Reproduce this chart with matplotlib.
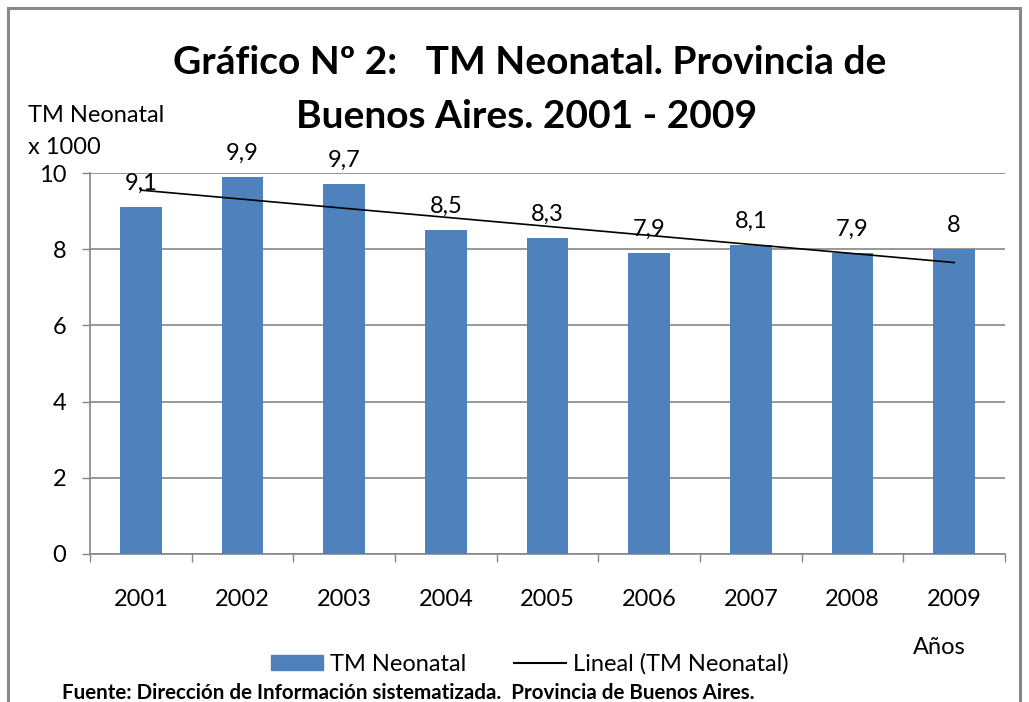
import matplotlib
matplotlib.use("Agg")
import matplotlib.pyplot as plt
from matplotlib.patches import Rectangle, Patch
from matplotlib.lines import Line2D

years = ["2001", "2002", "2003", "2004", "2005", "2006", "2007", "2008", "2009"]
values = [9.1, 9.9, 9.7, 8.5, 8.3, 7.9, 8.1, 7.9, 8.0]
labels = ["9,1", "9,9", "9,7", "8,5", "8,3", "7,9", "8,1", "7,9", "8"]
trend_ends = [9.55, 7.65]   # linear trend at 2001 and 2009
yticks = [0, 2, 4, 6, 8, 10]

plt.rcParams['font.family'] = ['Lato', 'DejaVu Sans']
BLUE = "#4F81BD"
GRAY = "#868686"
FS = 17

fig = plt.figure(figsize=(10.29, 7.02), dpi=100)
fig.patches.append(Rectangle((8/1029, -0.05), 1012/1029, 1.05 - 8/702,
                             transform=fig.transFigure, fill=False,
                             edgecolor="#888888", linewidth=2.2))

ax = fig.add_axes([90/1029, 148/702, 915/1029, 381/702])
x = list(range(len(years)))
ax.bar(x, values, width=0.41, color=BLUE, zorder=3)
ax.plot([x[0], x[-1]], trend_ends, color="black", linewidth=1.2, zorder=4)

for xi, v, lab in zip(x, values, labels):
    ax.annotate(lab, (xi, v), xytext=(0, 17), textcoords="offset points",
                ha="center", va="center", fontsize=FS, clip_on=False, zorder=5)

ax.set_xlim(-0.5, len(years) - 0.5)
ax.set_ylim(0, 10)
ax.set_yticks(yticks)
ax.set_yticklabels([str(t) for t in yticks], fontsize=FS)
ax.yaxis.grid(True, color=GRAY, linewidth=1.2, zorder=0)
ax.set_axisbelow(True)

ax.set_xticks([i - 0.5 for i in range(len(years) + 1)])
ax.set_xticklabels([])
ax.set_xticks(x, minor=True)
ax.set_xticklabels(years, minor=True, fontsize=FS)
ax.tick_params(axis="x", which="major", length=6, color=GRAY, width=1)
ax.tick_params(axis="x", which="minor", length=0, pad=25)
ax.tick_params(axis="y", length=6, color=GRAY, width=1, pad=11)

for s in ["top", "right"]:
    ax.spines[s].set_visible(False)
for s in ["left", "bottom"]:
    ax.spines[s].set_color(GRAY)
    ax.spines[s].set_linewidth(1.2)

fig.text(530/1029, 1 - 62/702, "Gráfico Nº 2:   TM Neonatal. Provincia de",
         ha="center", va="center", fontsize=28, fontweight="bold")
fig.text(527/1029, 1 - 116/702, "Buenos Aires. 2001 - 2009",
         ha="center", va="center", fontsize=28, fontweight="bold")

fig.text(28/1029, 1 - 115/702, "TM Neonatal", ha="left", va="center", fontsize=FS)
fig.text(28/1029, 1 - 148/702, "x 1000", ha="left", va="center", fontsize=FS)
fig.text(939/1029, 1 - 647/702, "Años", ha="center", va="center", fontsize=FS)

handles = [Patch(facecolor=BLUE, edgecolor=BLUE, label="TM Neonatal"),
           Line2D([0], [0], color="black", linewidth=1.5, label="Lineal (TM Neonatal)")]
fig.legend(handles=handles, loc="center", bbox_to_anchor=(530/1029, 1 - 664/702),
           ncol=2, frameon=False, fontsize=FS, handlelength=2.2, handleheight=0.6,
           columnspacing=2.0, handletextpad=0.3)

fig.text(62/1029, 1 - 693/702,
         "Fuente: Dirección de Información sistematizada.  Provincia de Buenos Aires.",
         ha="left", va="center", fontsize=14.8, fontweight="bold")

fig.savefig("out.png", dpi=100)
